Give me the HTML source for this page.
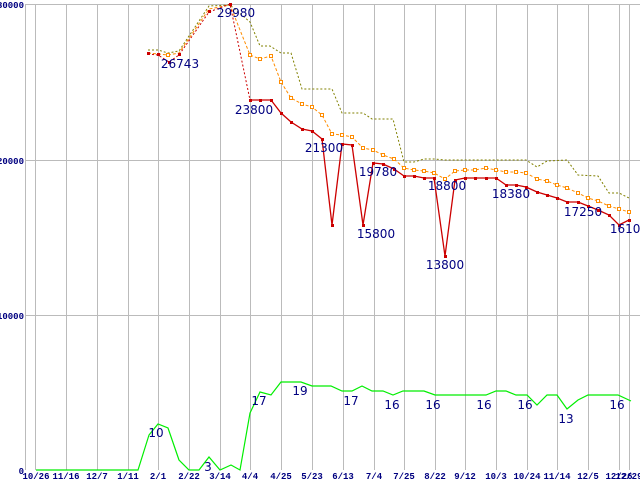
<!DOCTYPE html>
<html><head><meta charset="utf-8"><style>
html,body{margin:0;padding:0;background:#fff;width:640px;height:480px;overflow:hidden}
svg{display:block}
.ax{font-family:"Liberation Mono",monospace;font-size:9px;font-weight:bold;fill:#000080}
.lb{font-family:"DejaVu Sans","Liberation Sans",sans-serif;font-size:12px;fill:#000080}
</style></head><body>
<svg width="640" height="480" viewBox="0 0 640 480" xmlns="http://www.w3.org/2000/svg">
<g stroke="#bbb" stroke-width="1">
<line x1="25" y1="4.5" x2="640" y2="4.5"/>
<line x1="25" y1="160.5" x2="640" y2="160.5"/>
<line x1="25" y1="315.5" x2="640" y2="315.5"/>
<line x1="25.5" y1="4" x2="25.5" y2="470"/>
<line x1="35.5" y1="4" x2="35.5" y2="470"/>
<line x1="66.5" y1="4" x2="66.5" y2="470"/>
<line x1="97.5" y1="4" x2="97.5" y2="470"/>
<line x1="128.5" y1="4" x2="128.5" y2="470"/>
<line x1="158.5" y1="4" x2="158.5" y2="470"/>
<line x1="189.5" y1="4" x2="189.5" y2="470"/>
<line x1="220.5" y1="4" x2="220.5" y2="470"/>
<line x1="250.5" y1="4" x2="250.5" y2="470"/>
<line x1="281.5" y1="4" x2="281.5" y2="470"/>
<line x1="312.5" y1="4" x2="312.5" y2="470"/>
<line x1="343.5" y1="4" x2="343.5" y2="470"/>
<line x1="374.5" y1="4" x2="374.5" y2="470"/>
<line x1="404.5" y1="4" x2="404.5" y2="470"/>
<line x1="435.5" y1="4" x2="435.5" y2="470"/>
<line x1="465.5" y1="4" x2="465.5" y2="470"/>
<line x1="496.5" y1="4" x2="496.5" y2="470"/>
<line x1="527.5" y1="4" x2="527.5" y2="470"/>
<line x1="557.5" y1="4" x2="557.5" y2="470"/>
<line x1="588.5" y1="4" x2="588.5" y2="470"/>
<line x1="619.5" y1="4" x2="619.5" y2="470"/>
<line x1="629.5" y1="4" x2="629.5" y2="470"/>
</g>
<g class="ax" text-anchor="end">
<text x="24" y="8">30000</text>
<text x="24" y="164">20000</text>
<text x="24" y="319">10000</text>
<text x="24" y="474">0</text>
</g>
<g class="ax" text-anchor="middle">
<text x="36" y="479">10/26</text><text x="66" y="479">11/16</text><text x="97" y="479">12/7</text>
<text x="128" y="479">1/11</text><text x="158" y="479">2/1</text><text x="189" y="479">2/22</text>
<text x="220" y="479">3/14</text><text x="250" y="479">4/4</text><text x="281" y="479">4/25</text>
<text x="312" y="479">5/23</text><text x="343" y="479">6/13</text><text x="374" y="479">7/4</text>
<text x="404" y="479">7/25</text><text x="435" y="479">8/22</text><text x="465" y="479">9/12</text>
<text x="496" y="479">10/3</text><text x="527" y="479">10/24</text><text x="557" y="479">11/14</text>
<text x="588" y="479">12/5</text><text x="619" y="479">12/26</text><text x="629" y="479">12/29</text>
</g>
<!-- olive step -->
<polyline fill="none" stroke="#808000" stroke-width="1" stroke-dasharray="2,2" points="148,50 158,50 168,53 179,51 209,6 230,5 250,22 260,46 270,46 281,53 291,53 302,89 332,89 342,113 363,113 372,119 393,119 404,162 414,162 424,159 434,159 445,160 506,160 526,160 537,167 547,161 567,160 578,175 598,176 609,193 619,193 629,198"/>
<!-- orange -->
<polyline fill="none" stroke="#ff8c00" stroke-width="1" stroke-dasharray="3,2" points="148,53 158,54 168,55 179,53 209,9 230,5 250,55 260,59 271,56 281,82 291,98 302,104 312,107 322,115 332,134 342,135 352,137 363,148 373,150 383,155 394,159 404,168 414,170 424,171 434,173 445,179 455,171 465,170 475,170 486,168 496,170 506,172 516,172 526,173 537,179 547,181 557,185 567,188 578,193 588,198 598,201 609,206 619,209 629,212"/>
<g fill="#fff" stroke="#ff8c00" stroke-width="1">
<rect x="166.5" y="53.5" width="3" height="3"/><rect x="248.5" y="53.5" width="3" height="3"/><rect x="258.5" y="57.5" width="3" height="3"/><rect x="269.5" y="54.5" width="3" height="3"/><rect x="279.5" y="80.5" width="3" height="3"/><rect x="289.5" y="96.5" width="3" height="3"/><rect x="300.5" y="102.5" width="3" height="3"/><rect x="310.5" y="105.5" width="3" height="3"/><rect x="320.5" y="113.5" width="3" height="3"/><rect x="330.5" y="132.5" width="3" height="3"/><rect x="340.5" y="133.5" width="3" height="3"/><rect x="350.5" y="135.5" width="3" height="3"/><rect x="361.5" y="146.5" width="3" height="3"/><rect x="371.5" y="148.5" width="3" height="3"/><rect x="381.5" y="153.5" width="3" height="3"/><rect x="392.5" y="157.5" width="3" height="3"/><rect x="402.5" y="166.5" width="3" height="3"/><rect x="412.5" y="168.5" width="3" height="3"/><rect x="422.5" y="169.5" width="3" height="3"/><rect x="432.5" y="171.5" width="3" height="3"/><rect x="443.5" y="177.5" width="3" height="3"/><rect x="453.5" y="169.5" width="3" height="3"/><rect x="463.5" y="168.5" width="3" height="3"/><rect x="473.5" y="168.5" width="3" height="3"/><rect x="484.5" y="166.5" width="3" height="3"/><rect x="494.5" y="168.5" width="3" height="3"/><rect x="504.5" y="170.5" width="3" height="3"/><rect x="514.5" y="170.5" width="3" height="3"/><rect x="524.5" y="171.5" width="3" height="3"/><rect x="535.5" y="177.5" width="3" height="3"/><rect x="545.5" y="179.5" width="3" height="3"/><rect x="555.5" y="183.5" width="3" height="3"/><rect x="565.5" y="186.5" width="3" height="3"/><rect x="576.5" y="191.5" width="3" height="3"/><rect x="586.5" y="196.5" width="3" height="3"/><rect x="596.5" y="199.5" width="3" height="3"/><rect x="607.5" y="204.5" width="3" height="3"/><rect x="617.5" y="207.5" width="3" height="3"/><rect x="627.5" y="210.5" width="3" height="3"/>
</g>
<!-- red -->
<polyline fill="none" stroke="#cc0000" stroke-width="1" stroke-dasharray="2,2" points="148,54 158,55 169,62 179,55 209,12 230,4 250,100"/>
<polyline fill="none" stroke="#cc0000" stroke-width="1.3" points="250,100 260,100 271,100 281,113 291,122 302,129 312,131 322,139 332,225 342,144 352,145 363,225 373,163 383,164 394,169 404,176 414,176 424,178 434,178 445,256 455,180 465,178 475,178 486,178 496,178 506,185 516,185 526,187 537,192 547,195 557,198 567,202 578,202 588,206 598,210 609,215 619,225 629,220"/>
<g fill="#cc0000">
<rect x="147" y="52" width="3" height="3"/><rect x="157" y="53" width="3" height="3"/><rect x="168" y="61" width="3" height="3"/><rect x="178" y="53" width="3" height="3"/><rect x="208" y="10" width="3" height="3"/><rect x="229" y="3" width="3" height="3"/><rect x="249" y="99" width="3" height="3"/><rect x="259" y="99" width="3" height="3"/><rect x="270" y="99" width="3" height="3"/><rect x="280" y="112" width="3" height="3"/><rect x="290" y="121" width="3" height="3"/><rect x="301" y="128" width="3" height="3"/><rect x="311" y="130" width="3" height="3"/><rect x="321" y="138" width="3" height="3"/><rect x="331" y="224" width="3" height="3"/><rect x="341" y="143" width="3" height="3"/><rect x="351" y="144" width="3" height="3"/><rect x="362" y="224" width="3" height="3"/><rect x="372" y="162" width="3" height="3"/><rect x="382" y="163" width="3" height="3"/><rect x="393" y="168" width="3" height="3"/><rect x="403" y="175" width="3" height="3"/><rect x="413" y="175" width="3" height="3"/><rect x="423" y="177" width="3" height="3"/><rect x="433" y="177" width="3" height="3"/><rect x="444" y="255" width="3" height="3"/><rect x="454" y="179" width="3" height="3"/><rect x="464" y="177" width="3" height="3"/><rect x="474" y="177" width="3" height="3"/><rect x="485" y="177" width="3" height="3"/><rect x="495" y="177" width="3" height="3"/><rect x="505" y="184" width="3" height="3"/><rect x="515" y="184" width="3" height="3"/><rect x="525" y="186" width="3" height="3"/><rect x="536" y="191" width="3" height="3"/><rect x="546" y="194" width="3" height="3"/><rect x="556" y="197" width="3" height="3"/><rect x="566" y="201" width="3" height="3"/><rect x="577" y="201" width="3" height="3"/><rect x="587" y="205" width="3" height="3"/><rect x="597" y="209" width="3" height="3"/><rect x="608" y="214" width="3" height="3"/><rect x="618" y="224" width="3" height="3"/><rect x="628" y="219" width="3" height="3"/>
</g>
<!-- green -->
<polyline fill="none" stroke="#00ee00" stroke-width="1.2" points="36,470 138,470 149,435 158,424 168,428 179,460 189,470 199,470 209,457 220,470 231,465 240,470 250,413 260,392 271,395 281,382 301,382 312,386 331,386 342,391 352,391 362,386 372,391 383,391 393,395 403,391 424,391 435,395 486,395 496,391 506,391 516,395 527,395 537,405 547,395 557,395 567,409 578,400 588,395 618,395 631,401"/>
<g class="lb" text-anchor="middle">
<text x="180" y="68">26743</text>
<text x="236" y="17">29980</text>
<text x="254" y="114">23800</text>
<text x="324" y="152">21300</text>
<text x="376" y="238">15800</text>
<text x="378" y="176">19780</text>
<text x="447" y="190">18800</text>
<text x="445" y="269">13800</text>
<text x="511" y="198">18380</text>
<text x="583" y="216">17250</text>
<text x="629" y="233">16100</text>
<text x="156" y="437">10</text>
<text x="208" y="471">3</text>
<text x="259" y="405">17</text>
<text x="300" y="395">19</text>
<text x="351" y="405">17</text>
<text x="392" y="409">16</text>
<text x="433" y="409">16</text>
<text x="484" y="409">16</text>
<text x="525" y="409">16</text>
<text x="566" y="423">13</text>
<text x="617" y="409">16</text>
</g>
</svg>
</body></html>
